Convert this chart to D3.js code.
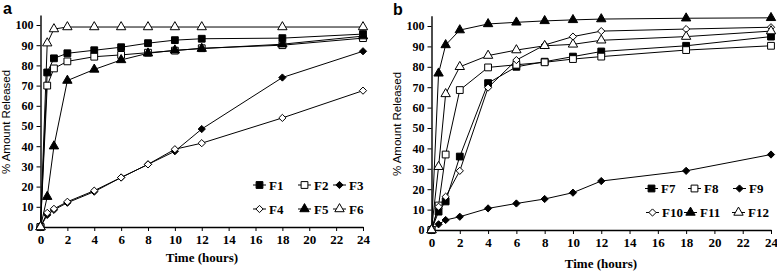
<!DOCTYPE html>
<meta charset="utf-8">
<style>
  body { margin: 0; background: #fff; }
  .tick text { font-family: "Liberation Serif", serif; font-weight: bold; }
</style>
<body>
<script src="https://d3js.org/d3.v7.min.js"></script>
<script>
// sampling times (hours)
var times = [0, 0.5, 1, 2, 4, 6, 8, 10, 12, 18, 24];
var xTicks = [0, 2, 4, 6, 8, 10, 12, 14, 16, 18, 20, 22, 24];
var yTicks = [0, 10, 20, 30, 40, 50, 60, 70, 80, 90, 100];

// panel a
var F1 = [0, 76.5, 83.5, 86, 87.5, 89, 91, 92.5, 93.2, 93.5, 95.5];
var F2 = [0, 70, 78.5, 82, 84.3, 85.2, 86.3, 87.3, 88.5, 90, 93.5];
var F3 = [0, 6, 8.5, 12, 17.5, 24.5, 31, 37.5, 48.5, 74, 87];
var F4 = [0, 7, 9, 12.5, 18, 24.5, 31, 38.5, 41.5, 54, 67.5];
var F5 = [0, 15, 40, 72.5, 78, 82.7, 86, 87.5, 88.3, 90.5, 94.5];
var F6 = [0, 91, 98, 99, 99, 99, 99, 99, 99, 99, 99];

// panel b
var F7 = [0, 9, 14, 36, 72, 80, 82.5, 85, 87.5, 90.3, 94.8];
var F8 = [0, 12, 37, 68.6, 79.7, 81, 82.2, 83.8, 85, 88.2, 90.3];
var F9 = [0, 2.8, 4.9, 6.5, 10.6, 13, 15.2, 18.3, 24, 29, 37];
var F10 = [0, 11.4, 16.3, 29, 69.8, 83.3, 90.7, 94.8, 97.5, 98.5, 99.4];
var F11 = [0, 76.8, 90.7, 98, 101, 101.8, 102.5, 103, 103.4, 103.8, 104];
var F12 = [0, 31, 66.7, 80, 85.5, 88.2, 90.3, 91, 93, 94.8, 97.5];

var svg = d3.select("body").append("svg")
    .attr("width", 777)
    .attr("height", 273);

// square turned 45 degrees (d3's own diamond is too tall here)
var rhombus = {
  draw: function(ctx, size) {
    var r = Math.sqrt(size / 2);
    ctx.moveTo(0, -r); ctx.lineTo(r, 0); ctx.lineTo(0, r); ctx.lineTo(-r, 0); ctx.closePath();
  }
};

var sq = {shape: d3.symbolSquare, size: 46},
    dia = {shape: rhombus, size: 26},
    tri = {shape: d3.symbolTriangle, size: 38};

var panels = [
  {
    letter: "a", lx: 3, ly: 14,
    x0: 40.5, x1: 363, yBase: 227, yTop: 14.9,
    xLabel: {x: 202, y: 262},
    yLabel: {x: 10, y: 122},
    series: [
      {name: "F1", v: F1, m: sq, fill: true},
      {name: "F2", v: F2, m: sq, fill: false},
      {name: "F3", v: F3, m: dia, fill: true},
      {name: "F4", v: F4, m: dia, fill: false},
      {name: "F5", v: F5, m: tri, fill: true},
      {name: "F6", v: F6, m: tri, fill: false}
    ],
    legend: [
      {x: [253, 298, 333], y: 185},
      {x: [253, 298, 333], y: 209}
    ]
  },
  {
    letter: "b", lx: 393, ly: 15,
    x0: 431.5, x1: 771, yBase: 230, yTop: 15.8,
    xLabel: {x: 601, y: 268},
    yLabel: {x: 401, y: 124},
    series: [
      {name: "F7", v: F7, m: sq, fill: true},
      {name: "F8", v: F8, m: sq, fill: false},
      {name: "F9", v: F9, m: dia, fill: true},
      {name: "F10", v: F10, m: dia, fill: false},
      {name: "F11", v: F11, m: tri, fill: true},
      {name: "F12", v: F12, m: tri, fill: false}
    ],
    legend: [
      {x: [645, 688, 733], y: 188.5},
      {x: [646, 684, 732], y: 212.5}
    ]
  }
];

panels.forEach(function(p) {
  var x = d3.scaleLinear().domain([0, 24]).range([p.x0, p.x1]);
  var y = d3.scaleLinear().domain([0, 105]).range([p.yBase, p.yTop]);

  // x axis
  var gx = svg.append("g")
      .attr("transform", "translate(0," + p.yBase + ")")
      .call(d3.axisBottom(x).tickValues(xTicks).tickSize(4).tickPadding(4).tickSizeOuter(0));
  gx.selectAll("text").style("font-size", "13px");

  // y axis
  var gy = svg.append("g")
      .attr("transform", "translate(" + p.x0 + ",0)")
      .call(d3.axisLeft(y).tickValues(yTicks).tickSize(4).tickPadding(3).tickSizeOuter(0));
  gy.selectAll("text").style("font-size", "12px");

  svg.selectAll(".domain").attr("stroke-width", 1.4);

  svg.append("text")
      .attr("x", p.lx).attr("y", p.ly)
      .style("font-family", "Liberation Sans, Arial, sans-serif")
      .style("font-weight", "bold").style("font-size", "16px")
      .text(p.letter);

  svg.append("text")
      .attr("x", p.xLabel.x).attr("y", p.xLabel.y)
      .attr("text-anchor", "middle")
      .style("font-family", "Liberation Serif, serif")
      .style("font-weight", "bold").style("font-size", "13px")
      .text("Time (hours)");

  svg.append("text")
      .attr("transform", "translate(" + p.yLabel.x + "," + p.yLabel.y + ") rotate(-90)")
      .attr("text-anchor", "middle")
      .style("font-family", "Liberation Sans, Arial, sans-serif")
      .style("font-size", "11.5px")
      .text("% Amount Released");

  var line = d3.line()
      .x(function(d, i) { return x(times[i]); })
      .y(function(d) { return y(d); });

  p.series.forEach(function(s) {
    svg.append("path")
        .datum(s.v)
        .attr("fill", "none")
        .attr("stroke", "#000")
        .attr("stroke-width", 1)
        .attr("d", line);
  });

  p.series.forEach(function(s) {
    svg.append("g").selectAll("path")
        .data(s.v)
        .join("path")
        .attr("transform", function(d, i) { return "translate(" + x(times[i]) + "," + y(d) + ")"; })
        .attr("d", d3.symbol().type(s.m.shape).size(s.m.size))
        .attr("fill", s.fill ? "#000" : "#fff")
        .attr("stroke", "#000")
        .attr("stroke-width", 1);
  });

  // legend, 3 per row
  p.series.forEach(function(s, i) {
    var row = p.legend[Math.floor(i / 3)];
    var lx = row.x[i % 3], ly = row.y;
    var g = svg.append("g").attr("transform", "translate(" + lx + "," + ly + ")");
    g.append("line").attr("x1", 0).attr("x2", 13).attr("stroke", "#000");
    g.append("path")
        .attr("transform", "translate(6.5,0)")
        .attr("d", d3.symbol().type(s.m.shape).size(s.m.size))
        .attr("fill", s.fill ? "#000" : "#fff")
        .attr("stroke", "#000");
    g.append("text")
        .attr("x", 16).attr("y", 4.5)
        .style("font-family", "Liberation Serif, serif")
        .style("font-weight", "bold").style("font-size", "13px")
        .text(s.name);
  });
});
</script>
</body>
